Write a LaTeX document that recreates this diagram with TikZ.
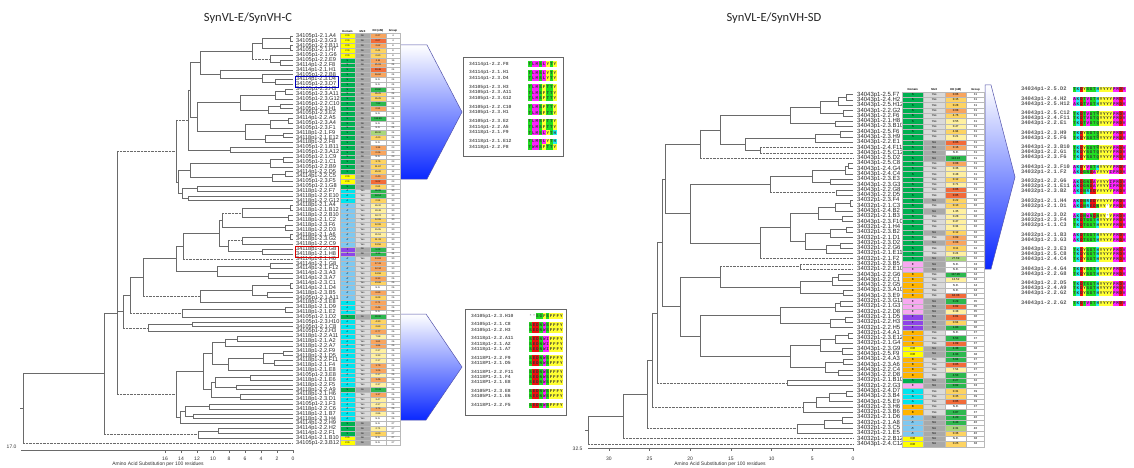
\documentclass[tikz,border=0pt]{standalone}
\usepackage{fontspec}
\setmainfont{Liberation Sans}
\newfontfamily\calfont{Carlito}
\newfontfamily\monofont{Liberation Mono}
\usetikzlibrary{calc}
\definecolor{trc}{HTML}{6A6A6A}
\definecolor{dccd}{HTML}{FFFF00}
\definecolor{dcs}{HTML}{00B050}
\definecolor{dca}{HTML}{00E5EE}
\definecolor{dcap}{HTML}{7EC8F0}
\definecolor{dcf}{HTML}{8E44E8}
\definecolor{dce}{HTML}{F7A8F0}
\definecolor{dcb}{HTML}{FFB400}
\definecolor{mxYes}{HTML}{DADADA}
\definecolor{mxNo}{HTML}{A9A9A9}
\definecolor{kdR}{HTML}{F26B3A}
\definecolor{kdO}{HTML}{F8A55E}
\definecolor{kdY}{HTML}{FDD362}
\definecolor{kdP}{HTML}{FFF0A0}
\definecolor{kdG}{HTML}{2EB84F}
\definecolor{kdL}{HTML}{A9D67A}
\definecolor{kdW}{HTML}{FFFFFF}
\definecolor{aagrn}{HTML}{22DD22}
\definecolor{aamag}{HTML}{FF22FF}
\definecolor{aayel}{HTML}{FFFF33}
\definecolor{aared}{HTML}{EE1111}
\definecolor{aacya}{HTML}{22EEEE}
\definecolor{chv}{HTML}{0A28FF}
\def\dtcd{C/D}\def\dts{S}\def\dta{A}\def\dtap{A'}\def\dtf{F}\def\dte{E}\def\dtb{B}
\def\aacT{aagrn}\def\aacS{aagrn}\def\aacN{aagrn}\def\aacQ{aagrn}\def\aacG{aagrn}
\def\aacA{aamag}\def\aacV{aamag}\def\aacL{aamag}\def\aacI{aamag}\def\aacM{aamag}\def\aacP{aamag}\def\aacW{aamag}
\def\aacF{aayel}\def\aacY{aayel}\def\aacC{aayel}
\def\aacD{aared}\def\aacE{aared}
\def\aacK{aacya}\def\aacR{aacya}\def\aacH{aacya}
\expandafter\def\csname aac-\endcsname{white}
\newcount\sqk
\newcommand\seqrow[5]{\def\sqx{#1}\def\sqy{#2}\def\sqw{#3}\def\sqh{#4}\global\sqk=0 \expandafter\sqloop#5\relax}
\def\sqloop#1{\ifx\relax#1\else\sqchar{#1}\global\advance\sqk by 1 \expandafter\sqloop\fi}
\def\sqchar#1{\edef\sqc{\csname aac#1\endcsname}\fill[\sqc] ({\sqx+\the\sqk*\sqw},{\sqy-\sqh/2}) rectangle ++(\sqw,\sqh); \node[aatext] at ({\sqx+(\the\sqk+0.5)*\sqw},\sqy) {#1};}
\newcommand\JJ[6]{%
  \path ($(#3)!0.5!(#4)$) coordinate (tmpj);
  \coordinate (#1) at (#2,0 |- tmpj);
  \draw[tr] (#3 -| #1) -- (#4 -| #1);
  \draw[tr,#5] (#3 -| #1) -- (#3);
  \draw[tr,#6] (#4 -| #1) -- (#4);}
\newcommand\J[4]{\JJ{#1}{#2}{#3}{#4}{}{}}
% table: prefix, x0, y0, row height, rows  (column widths in \cwa..\cwd)
\newcommand\datatable[5]{%
 \pgfmathsetmacro\xa{#2+\cwa/2}\pgfmathsetmacro\xb{#2+\cwa+\cwb/2}%
 \pgfmathsetmacro\xc{#2+\cwa+\cwb+\cwc/2}\pgfmathsetmacro\xd{#2+\cwa+\cwb+\cwc+\cwd/2}%
 \node[hdr] (#1h1) at (\xa,{#3-#4/2-2.5}) {Domain};
 \node[hdr] (#1h2) at (\xb,{#3-#4/2-2.5}) {MxX};
 \node[hdr] (#1h3) at (\xc,{#3-#4/2-2.5}) {KD (nM)};
 \node[hdr] (#1h4) at (\xd,{#3-#4/2-2.5}) {Group};
 \foreach \d/\m/\k/\kv/\g [count=\i from 0] in {#5} {%
  \pgfmathsetmacro\yy{#3+#4*\i}%
  \edef\fd{dc\d}\edef\fm{mx\m}\edef\fk{kd\k}%
  \node[cell,fill=\fd,minimum height=#4pt,minimum width=\cwa*1pt] (#1d\i) at (\xa,\yy) {\csname dt\d\endcsname};
  \node[cell,fill=\fm,minimum height=#4pt,minimum width=\cwb*1pt] (#1m\i) at (\xb,\yy) {\m};
  \node[cell,fill=\fk,minimum height=#4pt,minimum width=\cwc*1pt] (#1k\i) at (\xc,\yy) {\kv};
  \node[cell,fill=white,minimum height=#4pt,minimum width=\cwd*1pt] (#1g\i) at (\xd,\yy) {\g};
 }}
\tikzset{
 tr/.style={draw=trc,line width=0.6pt},
 dt/.style={dash pattern=on 0.7pt off 0.7pt},
 llab/.style={anchor=west,inner sep=0pt,font=\fontsize{5.6}{5.6}\selectfont,text=black!85},
 rlab/.style={anchor=west,inner sep=0pt,font=\fontsize{6}{6}\selectfont,text=black!85},
 cell/.style={draw=gray!55,line width=0.2pt,inner sep=0pt,font=\fontsize{\cfs}{3}\selectfont},
 hdr/.style={inner sep=0pt,font=\bfseries\fontsize{2.8}{3}\selectfont},
 ttl/.style={font=\calfont\fontsize{12.5}{13}\selectfont,text=black!85},
 axl/.style={font=\fontsize{5}{5}\selectfont,text=black!80},
 bxlab/.style={anchor=west,inner sep=0pt,font=\monofont\bfseries\fontsize{4.7}{4.7}\selectfont,text=black!65},
 rxlab/.style={anchor=west,inner sep=0pt,font=\monofont\bfseries\fontsize{5.4}{5.4}\selectfont,text=black!65},
 aatext/.style={inner sep=0pt,font=\monofont\bfseries\fontsize{4.2}{4.2}\selectfont,text=black!80},
 chev/.style={top color=white,bottom color=chv,draw=blue!35!gray,line width=0.5pt},
}
\begin{document}
\begin{tikzpicture}[x=1pt,y=-1pt]
\useasboundingbox (0,0) rectangle (1134,468);
\fill[white] (0,0) rectangle (1134,468);
% titles
\node[ttl] (t1) at (248,18) {SynVL-E/SynVH-C};
\node[ttl] (t2) at (774,18) {SynVL-E/SynVH-SD};
% chevrons
\shade[chev] (400,45) -- (427,45) -- (462,112) -- (427,179) -- (400,179) -- cycle;
\shade[chev] (400,314) -- (426,314) -- (462,367) -- (426,420) -- (400,420) -- cycle;
\shade[chev] (985,85) -- (991,85) -- (1015,177) -- (991,269) -- (985,269) -- cycle;
% ===== left tree =====
\foreach \i in {0,...,84} {\coordinate (L\i) at (293,{36+4.845*\i});}
\J{la01}{290}{L0}{L1}\J{la23}{290}{L2}{L3}\J{la03}{262}{la01}{la23}
\J{la56}{280}{L5}{L6}\J{la46}{270}{L4}{la56}\JJ{lA1}{252}{la03}{la46}{}{dt}
\J{lb910}{275}{L9}{L10}\J{lb810}{262}{L8}{lb910}\J{lB1}{220}{L7}{lb810}
\J{lA}{200}{lA1}{lB1}
\J{lc1112}{285}{L11}{L12}\J{lc1113}{275}{lc1112}{L13}\J{lc1415}{280}{L14}{L15}\J{lc1416}{268}{lc1415}{L16}\J{lC}{240}{lc1113}{lc1416}
\J{ld1718}{288}{L17}{L18}\J{ld1719}{270}{ld1718}{L19}\J{ld2021}{283}{L20}{L21}\J{ld2022}{265}{ld2021}{L22}\J{lD}{245}{ld1719}{ld2022}
\J{lCD}{197}{lC}{lD}\J{lAU}{190}{lA}{lCD}\J{lE}{230}{L23}{L24}\J{lTU}{188}{lAU}{lE}
\J{lf2526}{283}{L25}{L26}\J{lf2527}{270}{lf2526}{L27}\J{lf2829}{285}{L28}{L29}\J{lf2830}{272}{lf2829}{L30}\J{lF1}{190}{lf2527}{lf2830}
\J{lf2}{197}{L31}{L32}\J{lf3}{188}{L33}{L34}\J{lF23}{182}{lf2}{lf3}\J{lF}{178}{lF1}{lF23}
\JJ{lTOP}{176}{lTU}{lF}{dt}{}
\J{lm3536}{290}{L35}{L36}\J{lm3738}{288}{L37}{L38}\J{lm1}{242}{lm3536}{lm3738}\J{lm2}{285}{L39}{L40}\JJ{lm12}{222}{lm1}{lm2}{dt}{}
\J{lm4142}{290}{L41}{L42}\J{lm3}{242}{lm4142}{L43}\J{lm4}{262}{L44}{L45}\JJ{lm34}{228}{lm3}{lm4}{dt}{}
\J{lM1}{219}{lm12}{lm34}\JJ{lM2}{183}{lM1}{L46}{}{dt}
\J{lm4748}{270}{L47}{L48}\J{lm4950}{268}{L49}{L50}\J{lM3}{217}{lm4748}{lm4950}\J{lM23}{176}{lM2}{lM3}
\J{lm5152}{290}{L51}{L52}\J{lm5354}{267}{L53}{L54}\J{lM4}{252}{lm5152}{lm5354}\J{lM4b}{200}{lM4}{L55}
\JJ{lM5}{143}{lM23}{lM4b}{}{dt}
\J{lm5657}{285}{L56}{L57}\J{lM6}{182}{lm5657}{L58}\JJ{lM56}{130}{lM5}{lM6}{}{dt}
\J{lm5960}{192}{L59}{L60}\J{lM7}{148}{lm5960}{L61}\JJ{lMID}{123}{lM56}{lM7}{}{dt}
\J{lg1}{237}{L62}{L63}\J{lg2}{225}{lg1}{L64}\J{lg3}{283}{L65}{L66}\J{lg4}{274}{L67}{L68}\J{lg5}{263}{lg3}{lg4}\J{lg6}{228}{lg5}{L69}\J{lg7}{212}{lg2}{lg6}
\J{lg8}{250}{L70}{L71}\J{lg9}{236}{L72}{L73}\J{lg10}{215}{lg8}{lg9}\J{lg15}{240}{L74}{L75}\J{lg10b}{211}{lg10}{lg15}\J{lg11}{203}{lg7}{lg10b}
\J{lg12}{209}{L76}{L77}\J{lg13}{193}{L78}{L79}\J{lg14}{185}{lg12}{lg13}\J{lg16}{180}{lg14}{L80}\J{lBOT}{176}{lg11}{lg16}
\JJ{lN117a}{117}{lTOP}{lMID}{dt}{}\JJ{lN117}{117}{lN117a}{lBOT}{}{dt}
\J{lt1}{218}{L81}{L82}\J{lT3}{198}{lt1}{L83}
\JJ{lN104}{104}{lN117}{lT3}{}{dt}
\JJ{lRoot}{23}{lN104}{L84}{}{dt}
\draw[tr] (lRoot) -- ++(-3,0);
% left labels
\foreach \t [count=\i from 0] in {34105p1-2.1.A4,34105p1-2.3.G3,34105p1-2.2.B11,34105p1-2.1.H7,34105p1-2.1.G6,34105p1-2.2.E9,34114p1-2.2.F8,34114p1-2.1.H1,34105p1-2.2.B8,34114p1-2.3.D4,34105p1-2.3.D7,34105p1-2.3.H3,34105p1-2.3.A11,34105p1-2.3.G12,34105p1-2.2.C10,34105p1-2.3.H1,34105p1-2.3.E2,34114p1-2.2.A5,34105p1-2.3.A4,34105p1-2.3.F1,34118p1-2.1.F9,34118p1-2.1.E12,34118p1-2.2.F8,34105p1-2.1.B11,34105p1-2.3.A12,34105p1-2.1.C9,34105p1-2.1.C1,34105p1-2.2.B9,34114p1-2.2.D5,34114p1-2.2.C5,34105p1-2.3.F5,34105p1-2.1.G8,34118p1-2.2.F7,34118p1-2.2.E10,34118p1-2.2.G12,34118p1-2.1.A4,34118p1-2.1.B12,34118p1-2.2.B10,34118p1-2.1.C2,34118p1-2.3.F6,34118p1-2.2.D3,34118p1-2.1.A6,34118p1-2.3.G2,34118p1-2.2.C9,34118p1-2.2.G8,34118p1-2.1.H8,34114p1-2.1.H6,34114p1-2.1.G8,34114p1-2.1.F12,34114p1-2.3.A3,34114p1-2.3.A7,34114p1-2.3.C1,34114p1-2.1.D4,34118p1-2.3.B5,34105p1-2.1.A11,34118p1-2.3.E8,34118p1-2.1.D9,34118p1-2.1.E2,34105p1-2.1.D2,34105p1-2.3.H10,34105p1-2.1.C8,34105p1-2.2.H3,34118p1-2.2.A11,34118p1-2.1.A2,34118p1-2.2.A7,34118p1-2.2.F9,34118p1-2.1.D5,34118p1-2.2.F11,34118p1-2.1.F4,34118p1-2.1.E8,34105p1-2.3.E8,34118p1-2.1.E6,34118p1-2.2.F5,34118p1-2.2.A9,34118p1-2.1.H6,34118p1-2.3.D1,34105p1-2.1.F3,34118p1-2.2.C6,34118p1-2.1.B7,34118p1-2.3.H4,34114p1-2.2.H9,34114p1-2.2.H2,34114p1-2.2.F1,34114p1-2.1.B10,34105p1-2.3.B12}
 {\node[llab] (ll\i) at (296,{36+4.845*\i}) {\t};}
\draw[blue!75!black,line width=0.8pt] (295,{36+4.845*9-3}) rectangle (338,{36+4.845*10+3});
\draw[red!85!black,line width=0.8pt] (295,{36+4.845*44-3}) rectangle (338,{36+4.845*45+3});
% left table
\def\cwa{15}\def\cwb{15}\def\cwc{16}\def\cwd{14}\def\cfs{2.4}
\datatable{lt}{340}{36}{4.845}{cd/No/O/0.27/4,cd/No/R/0.07/4,cd/No/O/2.62/8,cd/No/Y/0.41/8,cd/No/Y/0.60/8,s/No/O/0.11/16,s/No/O/21.03/24,s/No/R/19.46/24,s/No/O/16.62/24,s/No/W/N.D./24,s/No/W/N.D./24,s/No/G/23.60/24,s/No/Y/35.29/24,s/No/Y/35.29/24,s/No/G/7.92/24,s/No/O/0.91/24,s/No/W/N.D./24,s/No/G/113.99/24,s/No/W/N.D./24,s/No/W/N.D./24,s/No/L/89.00/24,s/No/Y/4.20/24,s/No/W/N.D./24,s/No/O/1.34/23,s/No/O/0.26/23,s/No/W/N.D./23,s/No/Y/3.75/23,s/No/Y/11.67/12,s/No/Y/25.00/12,cd/No/O/0.40/12,cd/No/R/9.02/23,s/No/Y/0.61/23,a/Yes/G/36.99/30,a/Yes/G/18.14/30,a/Yes/Y/0.94/30,ap/Yes/P/26.32/30,ap/Yes/P/28.48/30,ap/Yes/P/18.74/30,ap/Yes/Y/12.99/30,ap/Yes/Y/12.99/30,ap/Yes/P/15.95/30,ap/Yes/P/31.53/30,ap/Yes/Y/11.33/30,ap/Yes/Y/13.56/30,f/No/G/5.29/34,f/No/G/3.36/34,ap/Yes/O/13.63/30,ap/Yes/O/17.43/30,ap/Yes/O/12.34/30,ap/Yes/Y/14.58/30,ap/Yes/O/8.33/26,ap/Yes/Y/23.68/26,ap/Yes/W/N.D./26,ap/Yes/O/6.89/26,ap/Yes/Y/8.29/26,a/Yes/O/0.71/26,a/Yes/O/0.46/26,a/Yes/W/N.D./26,s/No/G/30.00/26,a/Yes/Y/4.30/26,a/Yes/Y/2.63/26,a/Yes/O/0.77/26,a/Yes/P/7.98/26,a/Yes/O/1.61/26,a/Yes/O/1.84/26,a/Yes/P/2.37/26,a/Yes/P/3.33/26,a/Yes/P/2.17/26,a/Yes/O/1.79/26,a/Yes/O/1.26/26,a/Yes/P/2.17/26,a/Yes/O/1.46/26,a/Yes/P/2.37/26,s/No/G/72.41/26,a/Yes/O/1.17/26,a/Yes/P/3.47/26,a/Yes/P/4.37/26,a/Yes/O/1.73/26,a/Yes/P/2.86/26,a/Yes/W/N.D./26,s/No/W/N.D./27,s/No/P/2.71/27,s/No/Y/6.00/27,cd/No/W/N.D./27,cd/No/W/N.D./27}
% left axis
\draw[tr] (21,450) -- (293,450);
\foreach \v [count=\k from 0] in {0,2,4,6,8,10,12,14,16} {\draw[tr] ({293-16*\k},450) -- ++(0,3); \node[axl] (lax\k) at ({293-16*\k},459) {\v};}
\node[axl,anchor=east] (l17) at (20,447) {17.0};
\node[axl] (lxt) at (158,464) {Amino Acid Substitution per 100 residues};
% ===== right tree =====
\foreach \i in {0,...,66} {\coordinate (R\i) at (853,{94.65+5.293*\i});}
\J{ra}{846}{R0}{R1}\J{rb}{838}{ra}{R2}\J{rc}{843}{R3}{R4}\J{rd}{820}{rb}{rc}\J{re}{835}{R5}{R6}\J{rC1}{790}{rd}{re}
\J{rf}{840}{R7}{R8}\J{rg}{815}{rf}{R9}\JJ{rC2b}{760}{R10}{R11}{dt}{dt}\J{rC2}{745}{rg}{rC2b}
\J{rC12}{720}{rC1}{rC2}\JJ{rC12b}{700}{rC12}{R12}{}{dt}
\J{rh}{848}{R13}{R14}\J{ri}{845}{rh}{R15}\J{rj}{830}{R16}{R17}\J{rk}{812}{ri}{rj}\J{rl}{836}{R18}{R19}\JJ{rC3}{770}{rk}{rl}{}{dt}
\J{rm}{850}{R20}{R21}\J{rn}{835}{rm}{R22}\J{ro}{842}{R23}{R24}\J{rp}{818}{rn}{ro}\J{rq}{846}{R25}{R26}\J{rr}{830}{rq}{R27}\J{rs}{840}{R28}{R29}\J{rt}{826}{rs}{R30}\J{ru}{805}{rr}{rt}\J{rv}{790}{rp}{ru}\JJ{rC4}{760}{rv}{R31}{}{dt}
\J{rC34}{690}{rC3}{rC4}\J{rTOPA}{665}{rC12b}{rC34}
\JJ{rC5}{800}{R32}{R33}{dt}{dt}
\J{rw}{838}{R34}{R35}\J{rx}{832}{rw}{R36}\J{ry}{843}{R37}{R38}\J{rC6}{800}{rx}{ry}\JJ{rC56}{720}{rC5}{rC6}{dt}{}
\J{rz1}{840}{R39}{R40}\J{rz2}{835}{rz1}{R41}\J{rz3}{845}{R42}{R43}\J{rz4}{830}{rz3}{R44}\J{rC7}{780}{rz2}{rz4}
\J{ry1}{848}{R45}{R46}\J{ry2}{835}{ry1}{R47}\J{ry3}{842}{R48}{R49}\J{ry4}{820}{ry2}{ry3}\J{ry5}{843}{R50}{R51}\J{ry6}{838}{R52}{R53}\J{ry7}{825}{ry5}{ry6}\J{rC8}{790}{ry4}{ry7}
\J{rC78}{700}{rC7}{rC8}\J{rMIDA}{680}{rC56}{rC78}\J{rA}{662}{rTOPA}{rMIDA}
\J{rC9}{787}{R54}{R55}\JJ{rA2}{657}{rA}{rC9}{}{dt}
\J{rn846}{846}{R56}{R57}\J{rn829}{829}{rn846}{R58}\J{rn816}{816}{rn829}{R59}\J{rN803}{803}{rn816}{R60}
\JJ{rN652}{652}{rA2}{rN803}{}{dt}
\J{rn842}{842}{R61}{R62}\J{rn824}{824}{rn842}{R63}\J{rN797}{797}{rn824}{R64}
\JJ{rN647}{647}{rN652}{rN797}{}{dt}
\JJ{rN623}{623}{rN647}{R65}{}{dt}
\JJ{rRoot}{588}{rN623}{R66}{}{dt}
\draw[tr] (rRoot) -- ++(-3,0);
\foreach \t [count=\i from 0] in {34043p1-2.5.F7,34043p1-2.4.H2,34043p1-2.5.H12,34043p1-2.2.G2,34043p1-2.2.F6,34043p1-2.1.H8,34043p1-2.3.B10,34043p1-2.5.F6,34043p1-2.3.H9,34043p1-2.2.E1,34043p1-2.4.F11,34043p1-2.5.C12,34043p1-2.5.D2,34043p1-2.5.C8,34043p1-2.4.G4,34043p1-2.4.C4,34043p1-2.3.E3,34043p1-2.3.G3,34043p1-2.2.G8,34043p1-2.2.D5,34032p1-2.3.F4,34032p1-2.1.C3,34043p1-2.4.B2,34032p1-2.1.B3,34043p1-2.3.F10,34032p1-2.1.H4,34032p1-2.3.B2,34032p1-2.1.D1,34032p1-2.3.D2,34032p1-2.2.G6,34032p1-2.1.E11,34032p1-2.1.F2,34032p1-2.3.B5,34032p1-2.2.E10,34043p1-2.2.G6,34043p1-2.2.C1,34043p1-2.2.G5,34043p1-2.3.A10,34043p1-2.3.E9,34032p1-2.3.G11,34032p1-2.1.G3,34032p1-2.2.D8,34032p1-2.1.D5,34032p1-2.2.H3,34032p1-2.2.H5,34032p1-2.4.A1,34032p1-2.3.E12,34032p1-2.1.G4,34043p1-2.3.G9,34043p1-2.5.F9,34043p1-2.4.A3,34043p1-2.3.A6,34043p1-2.2.C4,34043p1-2.2.D8,34032p1-2.1.B10,34032p1-2.2.G3,34043p1-2.4.D7,34043p1-2.3.B4,34043p1-2.5.E9,34032p1-2.3.H6,34032p1-2.3.B6,34032p1-2.1.D6,34032p1-2.1.A8,34032p1-2.3.C5,34032p1-2.1.E5,34032p1-2.2.B12,34043p1-2.4.C12}
 {\node[rlab] (rl\i) at (857,{94.65+5.293*\i}) {\t};}
\def\cwa{21.5}\def\cwb{21.5}\def\cwc{21.5}\def\cwd{18}\def\cfs{2.9}
\datatable{rt}{902}{94.65}{5.293}{s/Yes/O/0.06/31,s/Yes/Y/0.15/31,s/Yes/Y/0.28/31,s/Yes/O/0.08/31,s/Yes/Y/4.76/31,s/Yes/P/0.55/31,s/Yes/P/0.47/31,s/Yes/Y/4.94/31,s/Yes/P/0.21/31,s/No/R/0.05/31,s/No/O/0.16/31,s/No/W/N.D./31,s/No/G/124.16/31,s/Yes/O/0.08/31,s/Yes/P/0.36/31,s/Yes/P/0.48/31,s/Yes/Y/0.12/31,s/Yes/P/0.71/31,s/Yes/R/0.06/31,s/Yes/R/0.05/31,s/No/Y/0.22/32,s/Yes/Y/0.13/32,s/No/P/1.35/32,s/Yes/P/0.28/32,s/Yes/P/0.47/32,s/Yes/P/0.34/32,s/No/Y/0.12/32,s/Yes/O/0.09/32,s/No/O/0.08/32,s/Yes/Y/0.11/32,s/Yes/P/0.24/32,s/No/L/27.69/32,e/No/W/N.D./33,e/No/W/N.D./33,b/Yes/G/117.26/34,b/Yes/P/13.52/34,b/Yes/W/N.D./34,b/Yes/W/N.D./34,b/Yes/R/18.33/34,e/No/G/0.29/35,e/No/R/0.02/35,e/No/P/0.38/35,f/No/R/0.01/36,f/No/Y/0.64/36,f/No/G/1.83/36,b/Yes/W/N.D./37,b/Yes/G/6.53/37,b/Yes/R/1.09/37,cd/No/G/4.38/38,cd/No/G/4.93/38,b/Yes/G/5.64/37,b/Yes/R/0.85/37,b/Yes/P/7.54/37,b/Yes/G/4.53/37,s/No/G/0.27/32,e/No/G/0.02/33,a/Yes/Y/0.31/39,a/Yes/Y/0.35/39,a/Yes/R/0.05/39,b/Yes/W/N.D./37,b/Yes/G/3.87/37,ap/No/G/4.20/40,ap/No/G/3.43/40,ap/No/L/2.31/40,ap/No/Y/0.36/40,cd/No/W/N.D./38,cd/No/Y/0.25/38}
% right axis
\draw[tr] (588,448) -- (853,448);
\foreach \v [count=\k from 0] in {0,5,10,15,20,25,30} {\draw[tr] ({853-40.7*\k},448) -- ++(0,3); \node[axl] (rax\k) at ({853-40.7*\k},459) {\v};}
\node[axl,anchor=east] (r32) at (586,449) {32.5};
\node[axl] (rxt) at (720,464) {Amino Acid Substitution per 100 residues};
% ===== upper callout =====
\draw[draw=black!60,line width=0.7pt,fill=white] (463,57) rectangle (563,156);
\foreach \yy/\lab/\sq [count=\i] in {64/34114p1-2.2.F8/TLMSLYTY,72.76/34114p1-2.1.H1/TLMSLYTY,78.36/34114p1-2.3.D4/TLMSLYTY,87.12/34105p1-2.3.H3/TLMSFTTY,92.72/34105p1-2.3.A11/TLMSFTTY,98.32/34105p1-2.3.G12/TLMSFTTY,107.08/34105p1-2.2.C10/TLMSFTTY,112.68/34105p1-2.3.H1/TLMSFTTY,121.44/34105p1-2.3.E2/TLMSFTTY,127.04/34114p1-2.2.A5/TLMSFTTY,132.64/34118p1-2.1.F9/TLMSLYTH,141.4/34118p1-2.1.E12/TLMSLYTH,147/34118p1-2.2.F8/TWMSFTTY}
 {\node[bxlab] (ub\i) at (469,\yy) {\lab}; \seqrow{528}{\yy}{3.6}{5.6}{\sq}}
% ===== lower callout =====
\draw[draw=black!60,line width=0.7pt,fill=white] (465,309) rectangle (566,415);
\foreach \yy/\lab/\sq [count=\i] in {316/34105p1-2.3.H10/--SGFSFFFY,324.8/34105p1-2.1.C8/SEDNWSFFFY,330/34105p1-2.2.H3/SEDNWSFFFY,338.8/34118p1-2.2.A11/SEDNWIFFFY,344/34118p1-2.1.A2/SEDNWIFFFY,349.2/34118p1-2.1.A7/SEDNWIFFFY,358/34118P1-2.2.F9/SEDNWSFFFY,363.2/34118P1-2.1.D5/SEDNWSFFFY,372/34118P1-2.2.F11/SEDNWSFFFY,377.2/34118P1-2.1.F4/SEDNWSFFFY,382.4/34118P1-2.1.E8/SEDNWSFFFY,391.2/34105P1-2.3.E8/SEDNWSFFFY,396.4/34105P1-2.1.E6/SEDNWSFFFY,405.2/34118P1-2.2.F5/SEDNWSFFFY}
 {\node[bxlab] (lb\i) at (471,\yy) {\lab}; \seqrow{529}{\yy}{3.4}{5.2}{\sq}}
% ===== right list =====
\foreach \yy/\lab/\sq [count=\i] in {89.3/34034p1-2.5.D2/TKDYSGTHYYYYPMDV,99.1/34043p1-2.4.H2/AKDTVGTHYYYYPMDV,103.9/34043p1-2.5.H12/AKDTVGTHYYYYPMDV,113.7/34043p1-2.5.C12/TKDTVGTQYYYYPMDV,118.5/34043p1-2.4.F11/TKDTVGTQYYYYPMDV,123.3/34043p1-2.2.E1/TKDTVGTQYYYYPMDV,133.1/34043p1-2.3.H9/TKDYSGTQYYYYPMDV,137.9/34043p1-2.5.F6/TKDYSGTQYYYYPMDV,147.7/34043p1-2.3.B10/TKDYSGTQYYYYPMDV,152.5/34043p1-2.2.G1/TKDYSGTQYYYYPMDV,157.3/34043p1-2.3.F6/TKDYSGTQYYYYPMDV,167.1/34043p1-2.3.F10/AKDYVGTHYYYYPMDV,171.9/34032p1-2.1.F2/AKDGNDAYYYYIPMDV,181.7/34032p1-2.2.G6/AKDGNDAYYYYIPMDV,186.5/34032p1-2.1.E11/AKDGNDAYYYYIPMDV,191.3/34032p1-2.3.B2/AKDNREDYYYYYPMDV,201.1/34032p1-2.1.H4/AKDNREDYYYYYPMDV,205.9/34032p1-2.1.D1/AKDNREDNYY-YPMDV,215.7/34032p1-2.3.D2/AKDNWNDNYY-YPMDV,220.5/34032p1-2.3.F4/TKDTGGTHYYYYPMDV,225.3/34032p1-1.1.C3/TKDTGGTHYYYYPMDV,235.1/34032p1-2.1.B3/AKDTSGTHYYYYPMDV,239.9/34043p1-2.3.G3/AKDTSGTHYYYYPMDV,249.7/34043p1-2.3.E3/TKDYSGTHYYYYPMDV,254.5/34043p1-2.5.C8/TKDYSGTHYYYYPMDV,259.3/34043p1-2.4.C4/TKDYSGTHYYYYPMDV,269.1/34043p1-2.4.G4/TKDYSGTHYYYYPMDV,273.9/34043p1-2.2.G8/TKDYSGTHYYYYPMDV,283.7/34043p1-2.2.D5/TKDTSGTHYYYYPMDV,288.5/34043p1-2.4.A9/TKDYSGTHYYYYPMDV,293.3/34043p1-2.2.G2/TKDYSGTHYYYYPMDV,303.1/34043p1-2.2.G2/TKDTVGTHYYYYPMDV}
 {\node[rxlab] (rb\i) at (1021,\yy) {\lab}; \seqrow{1073}{\yy}{3.3}{4.8}{\sq}}
\end{tikzpicture}
\end{document}
